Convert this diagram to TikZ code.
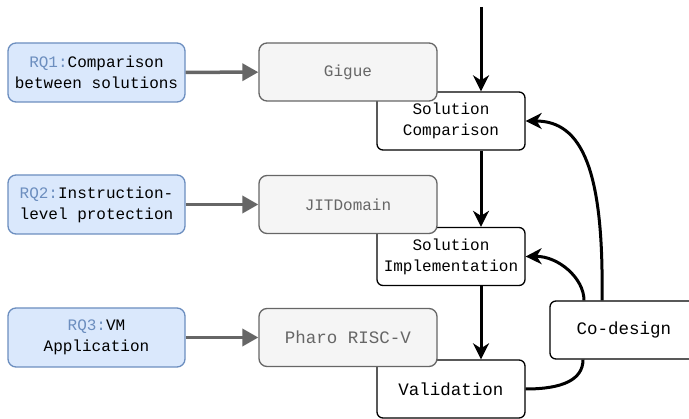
\documentclass[tikz,border=0pt]{standalone}
\usepackage{fontspec}
\usepackage{tikz}
\usetikzlibrary{arrows.meta}
\newfontfamily\diagfont{Liberation Mono}
\definecolor{rqfill}{HTML}{DAE8FC}
\definecolor{rqline}{HTML}{6C8EBF}
\definecolor{toolfill}{HTML}{F5F5F5}
\definecolor{toolline}{HTML}{666666}
\begin{document}
\begin{tikzpicture}[x=1pt, y=-1pt,
  rq/.style={draw=rqline, fill=rqfill, line width=1.3pt, rounded corners=8pt, minimum width=177pt, minimum height=59pt, inner sep=0pt, align=center, font=\diagfont\fontsize{16}{21}\selectfont},
  tool/.style={draw=toolline, fill=toolfill, text=toolline, line width=1.3pt, rounded corners=8pt, minimum width=178pt, minimum height=58pt, inner sep=0pt, font=\diagfont\fontsize{16}{21}\selectfont},
  stage/.style={draw=black, fill=white, line width=1.3pt, rounded corners=6pt, minimum width=148pt, minimum height=58pt, inner sep=0pt, align=center, font=\diagfont\fontsize{16}{21}\selectfont},
  big/.style={font=\diagfont\fontsize{17.5}{21}\selectfont},
  feed/.style={draw=toolline, line width=3.5pt, -{Triangle[length=16pt,width=17pt]}},
  flow/.style={line width=3pt, -{Stealth[length=16pt,width=16pt,inset=5pt]}}
]
\useasboundingbox (0,0) rectangle (689,419);

\node[stage] (scomp) at (451,121) {Solution\\Comparison};
\node[stage] (simpl) at (451,256.5) {Solution\\Implementation};
\node[stage, big] (valid) at (451,389) {Validation};
\node[stage, big] (codesign) at (624,330) {Co-design};

\node[tool] (gigue) at (348,72) {Gigue};
\node[tool] (jit) at (348,204.5) {JITDomain};
\node[tool, big] (pharo) at (348,337.5) {Pharo RISC-V};

\node[rq] (rq1) at (96.5,72.5) {\textcolor{rqline}{RQ1:}Comparison\\between solutions};
\node[rq] (rq2) at (96.5,204.5) {\textcolor{rqline}{RQ2:}Instruction-\\level protection};
\node[rq] (rq3) at (96.5,337.5) {\textcolor{rqline}{RQ3:}VM\\Application};

\draw[feed] (rq1) -- (gigue);
\draw[feed] (rq2) -- (jit);
\draw[feed] (rq3) -- (pharo);

\coordinate (start) at (481,7);
\draw[flow] (start) -- (start |- scomp.north);
\draw[flow] (start |- scomp.south) -- (start |- simpl.north);
\draw[flow] (start |- simpl.south) -- (start |- valid.north);

\draw[line width=3pt] (valid.east) .. controls (562,389) and (583,380) .. ([xshift=-41pt]codesign.south);
\draw[flow] ([xshift=-40pt]codesign.north) .. controls (584,278) and (558,256) .. (simpl.east);
\draw[flow] ([xshift=-22pt]codesign.north) .. controls (604,170) and (582,121) .. (scomp.east);
\end{tikzpicture}
\end{document}
